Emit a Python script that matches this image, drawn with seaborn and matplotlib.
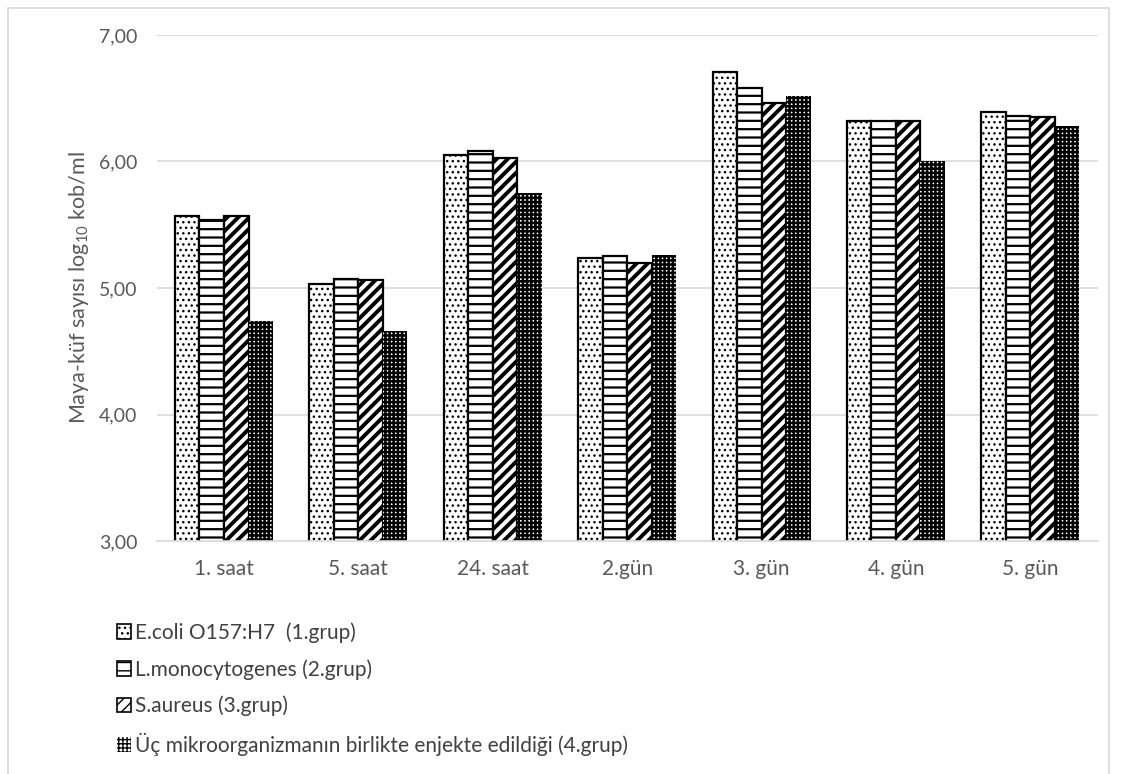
import matplotlib
matplotlib.use("Agg")
import matplotlib.pyplot as plt
import matplotlib.patches as mpatches
import seaborn as sns
import pandas as pd

# Sampling times and group values (log10 cfu/ml)
times = ["1. saat", "5. saat", "24. saat", "2.gün", "3. gün", "4. gün", "5. gün"]
groups = [
    "E.coli O157:H7  (1.grup)",
    "L.monocytogenes (2.grup)",
    "S.aureus (3.grup)",
    "Üç mikroorganizmanın birlikte enjekte edildiği (4.grup)",
]
ecoli = [5.57, 5.03, 6.05, 5.24, 6.71, 6.32, 6.39]
listeria = [5.54, 5.07, 6.08, 5.25, 6.58, 6.32, 6.36]
saureus = [5.57, 5.06, 6.03, 5.20, 6.46, 6.32, 6.35]
combined = [4.74, 4.66, 5.75, 5.26, 6.52, 6.00, 6.28]
y_ticks = [3, 4, 5, 6, 7]
y_ticklabels = ["3,00", "4,00", "5,00", "6,00", "7,00"]

series = [ecoli, listeria, saureus, combined]
df = pd.DataFrame({
    "time": [t for s in series for t in times],
    "group": [g for g, s in zip(groups, series) for _ in s],
    "value": [v for s in series for v in s],
})

sns.set_theme(style="white")
plt.rcParams["font.family"] = ["Lato", "DejaVu Sans"]
plt.rcParams["mathtext.default"] = "regular"
plt.rcParams["hatch.linewidth"] = 1.0

fig = plt.figure(figsize=(11.28, 7.74), dpi=100)
ax = fig.add_axes([0.139, 0.301, 0.834, 0.6538])

sns.barplot(data=df, x="time", y="value", hue="group", order=times,
            hue_order=groups, width=0.73, palette=["white"] * 4,
            edgecolor="black", linewidth=1.6, saturation=1, legend=False, ax=ax)

hatches = ["...", "--", "///", "++++"]
hatch_lw = [1.0, 1.6, 2.8, 1.8]
n = len(times)
for gi in range(len(groups)):
    for bar in ax.patches[gi * n:(gi + 1) * n]:
        bar.set_hatch(hatches[gi])
        bar.set_facecolor("white")
        if hasattr(bar, "set_hatch_linewidth"):
            bar.set_hatch_linewidth(hatch_lw[gi])
        if gi == 3:
            bar.set_linewidth(0)

ax.set_ylim(3, 7)
ax.set_yticks(y_ticks)
ax.set_yticklabels(y_ticklabels)
ax.grid(axis="y", color="#d9d9d9", linewidth=1.2)
ax.set_axisbelow(True)
for side in ["left", "right", "top"]:
    ax.spines[side].set_visible(False)
ax.spines["bottom"].set_color("#d9d9d9")
ax.spines["bottom"].set_linewidth(1.2)
ax.tick_params(axis="x", length=0, labelsize=15, colors="#595959", pad=13)
ax.tick_params(axis="y", length=0, labelsize=14, colors="#595959", pad=14)
ax.set_xlabel("")
ax.set_ylabel("Maya-küf sayısı log$_{10}$ kob/ml", fontsize=15.5, color="#595959",
              labelpad=6)

# Legend below the plot, one entry per row
handles = []
for gi in range(len(groups)):
    h = mpatches.Patch(facecolor="white", edgecolor="black", hatch=hatches[gi],
                       linewidth=1.2 if gi < 3 else 0, label=groups[gi])
    if hasattr(h, "set_hatch_linewidth"):
        h.set_hatch_linewidth(min(hatch_lw[gi], 1.6))
    handles.append(h)
fig.legend(handles=handles, loc="upper left", bbox_to_anchor=(0.096, 0.207),
           frameon=False, fontsize=15, labelcolor="#404040",
           handlelength=0.7, handleheight=0.7, handletextpad=0.2,
           labelspacing=0.78, borderaxespad=0)

# Light outer chart frame
fig.patches.append(mpatches.Rectangle((0.007, -0.01), 0.976, 1.0, fill=False,
                                      edgecolor="#d9d9d9", linewidth=1.2,
                                      transform=fig.transFigure, figure=fig))

fig.savefig("out.png", dpi=100, facecolor="white")
